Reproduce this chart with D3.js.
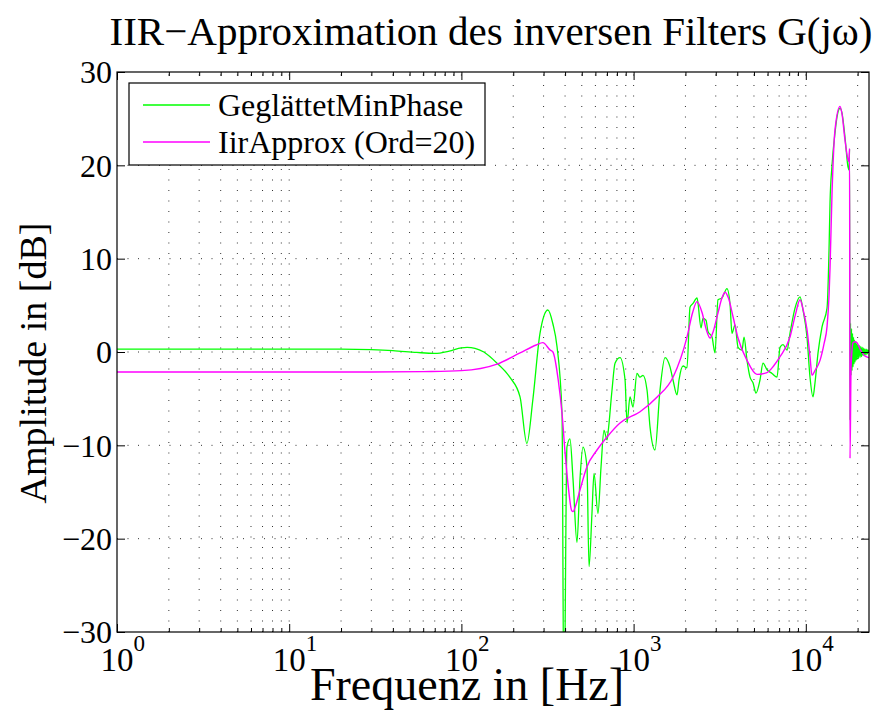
<!DOCTYPE html>
<html><head><meta charset="utf-8">
<script src="https://cdn.jsdelivr.net/npm/d3@7"></script>
<style>
body{margin:0;background:#fff}
svg{display:block}
text{font-family:"Liberation Serif","Times New Roman",serif;fill:#000}
</style>
</head><body>
<svg id="chart" width="879" height="724"></svg>
<script>
// ---- data ----
const titleText = "IIR\u2212Approximation des inversen Filters G(j\u03c9)";
const xLabelText = "Frequenz in [Hz]";
const yLabelText = "Amplitude in [dB]";
const seriesNames = ["Gegl\u00e4ttetMinPhase", "IirApprox (Ord=20)"];
const seriesColors = ["#00ff00", "#ff00ff"];
const yTicks = [-30, -20, -10, 0, 10, 20, 30];
const xDecades = [0, 1, 2, 3, 4];
const xDomain = [1, 23280];

const greenFreq = [1,5,10,20,30,40,55,70,85,100,108,120,135,161,191,219,240,260,286,318,340,359,384,394,410,427,445,469,488,508,536,551,573,589,621,647,673,701,710,749,780,834,892,916,953,992,1046,1090,1134,1197,1245,1331,1423,1522,1627,1694,1787,1835,1936,2042,2126,2213,2334,2366,2463,2529,2633,2704,2853,2970,3091,3262,3486,3628,3727,3881,4040,4262,4378,4556,4743,4937,5138,5420,5642,5953,6364,6805,7084,7373,7778,8094,8656,9255,9632,10162,10578,11010,11308,11776,12423,13281,13640,13824,14198,14779,15180,15800,16230,16890,17588,17820,17950,18060,18180,18300,18430,18550,18680,18800,18930,19050,19180,19310,19440,19570,19700,19830,20000,20200,20400,20640,20850,21050,21250,21490,21700,21900,22100,22370,22600,22800,23000,23280];
const greenDb = [0.3,0.3,0.3,0.3,0.25,0.15,-0.05,-0.15,0.1,0.45,0.5,0.4,0.0,-1.2,-2.7,-4.8,-9.8,-5.1,2.0,4.5,3.0,0.6,-6.6,-40,-10.2,-9.3,-13.7,-20.4,-13.7,-10.2,-12.3,-23,-17.3,-13,-17.3,-12.3,-8.4,-9.4,-8.7,-4.1,-1.2,-0.6,-3,-7.6,-4.8,-5.9,-2.3,-2.7,-2.5,-4.1,-8,-10.5,-4.1,-0.6,-1.6,-3,-4.6,-3,-1.5,-1.7,4.8,5.2,5.8,5.2,2.6,3.6,3.4,2.2,1.6,-0.1,5.6,5.8,6.8,5.2,2.0,2.9,0.5,0.2,1.6,-0.9,-2.7,-3.3,-4.4,-3.0,-1.2,-1.9,-2.3,-2.7,0.5,0.8,0.2,2.0,4.7,5.9,4.5,1.6,-2.7,-4.8,-3.3,-0.1,2.7,4.7,10.9,16,20,23.5,25.2,26.1,25.6,23,19.8,19.5,21.7,-7.3,3.1,-2.5,2.5,-2,2,-1.6,1.6,-1.3,1.3,-1.1,1.1,-0.9,0.9,-0.8,0.8,-0.7,0.7,-0.6,0.6,-0.5,0.5,-0.4,0.4,-0.4,0.3,-0.3,0.3,-0.2,0.2,0];

const iirFreq = [1,30,60,100,161,219,272,297,328,340,365,384,400,418,437,445,460,488,536,613,701,834,1090,1375,1694,2042,2200,2334,2500,2633,2778,2900,3091,3262,3395,3550,3777,4040,4556,5207,5953,6500,7084,8094,8700,9255,9632,10162,10578,10864,11300,12095,12800,13281,13640,13824,14198,14779,15800,16230,16890,17588,17820,17950,18060,18300,18550,18800,19310,19830,20640,21490,22370,23280];
const iirDb = [-2.15,-2.15,-2.1,-2.0,-1.3,-0.1,0.75,1.0,0.2,0,-3,-6.6,-10.8,-14.5,-17,-17.1,-16.5,-14.8,-12.3,-10.5,-9.1,-7.6,-6.4,-4.8,-2.7,1.6,4.2,5.4,4.2,2.5,1.5,2.2,4.2,5.8,6.4,5.8,3.8,1.5,-0.9,-2.4,-2.2,-1.5,-0.5,1.6,4.0,5.6,4.6,2.4,-0.5,-2.5,-2.0,-0.9,1.0,2.7,6,9,17,23.8,26.3,25.5,22.7,20.6,20.4,21.8,-11.4,-2,0.2,1.0,1.1,1.0,0.3,-0.2,-0.5,-0.6];

// ---- layout ----
const L = 117, R = 869, T = 72, B = 632;
const svg = d3.select("#chart");
const x = d3.scaleLog().domain(xDomain).range([L, R]);
const y = d3.scaleLinear().domain([-30, 30]).range([B, T]);

const minorVals = [];
xDecades.forEach(d => { for (let m = 2; m <= 9; m++) { const v = m * Math.pow(10, d); if (v < xDomain[1]) minorVals.push(v); } });
const majorVals = xDecades.map(d => Math.pow(10, d));

// grid
const grid = svg.append("g").attr("stroke", "#333").attr("stroke-width", 1).attr("stroke-dasharray", "1,9.5");
majorVals.concat(minorVals).forEach(v => {
  if (x(v) > L + 1 && x(v) < R - 1)
    grid.append("line").attr("x1", x(v)).attr("x2", x(v)).attr("y1", B).attr("y2", T);
});
yTicks.slice(1, -1).forEach(v => {
  grid.append("line").attr("x1", L).attr("x2", R).attr("y1", y(v)).attr("y2", y(v));
});

svg.append("clipPath").attr("id", "clip").append("rect").attr("x", L).attr("y", T).attr("width", R - L).attr("height", B - T);

const line = d3.line().curve(d3.curveMonotoneX).x(d => x(d[0])).y(d => y(d[1]));
const greenData = greenFreq.map((f, i) => [f, greenDb[i]]);
const iirData = iirFreq.map((f, i) => [f, iirDb[i]]);
const plot = svg.append("g").attr("clip-path", "url(#clip)");
plot.append("path").datum(greenData).attr("d", line).attr("fill", "none").attr("stroke", seriesColors[0]).attr("stroke-width", 1.3).attr("stroke-linejoin", "round");
plot.append("path").datum(iirData).attr("d", line).attr("fill", "none").attr("stroke", seriesColors[1]).attr("stroke-width", 1.4).attr("stroke-linejoin", "round");

// ticks
function styleAxis(g) { g.select(".domain").remove(); g.selectAll("line").attr("stroke", "#000"); g.selectAll("text").remove(); }
svg.append("g").attr("transform", `translate(0,${B})`).call(d3.axisBottom(x).tickValues(majorVals).tickSize(-8)).call(styleAxis);
svg.append("g").attr("transform", `translate(0,${B})`).call(d3.axisBottom(x).tickValues(minorVals).tickSize(-4)).call(styleAxis);
svg.append("g").attr("transform", `translate(0,${T})`).call(d3.axisTop(x).tickValues(majorVals).tickSize(-8)).call(styleAxis);
svg.append("g").attr("transform", `translate(0,${T})`).call(d3.axisTop(x).tickValues(minorVals).tickSize(-4)).call(styleAxis);
svg.append("g").attr("transform", `translate(${L},0)`).call(d3.axisLeft(y).tickValues(yTicks).tickSize(-8)).call(styleAxis);
svg.append("g").attr("transform", `translate(${R},0)`).call(d3.axisRight(y).tickValues(yTicks).tickSize(-8)).call(styleAxis);

svg.append("rect").attr("x", L).attr("y", T).attr("width", R - L).attr("height", B - T).attr("fill", "none").attr("stroke", "#000").attr("stroke-width", 1.2);

// y tick labels
svg.append("g").selectAll("text").data(yTicks).join("text")
  .attr("x", L - 5).attr("y", d => y(d)).attr("dy", "0.35em").attr("text-anchor", "end")
  .attr("font-size", 32).text(d => d < 0 ? "\u2212" + Math.abs(d) : String(d));

// x tick labels
const xl = svg.append("g").selectAll("text").data(xDecades).join("text")
  .attr("x", d => x(Math.pow(10, d)) - 16.5).attr("y", 671).attr("font-size", 33);
xl.append("tspan").text("10");
xl.append("tspan").attr("font-size", 23).attr("dy", -20).text(d => String(d));

// labels
svg.append("text").attr("x", 491).attr("y", 45).attr("text-anchor", "middle").attr("font-size", 41).text(titleText);
svg.append("text").attr("x", 467).attr("y", 700).attr("text-anchor", "middle").attr("font-size", 46).text(xLabelText);
svg.append("text").attr("transform", "translate(46,363) rotate(-90)").attr("text-anchor", "middle").attr("font-size", 38).text(yLabelText);

// legend
const lg = svg.append("g");
lg.append("rect").attr("x", 129).attr("y", 83).attr("width", 356).attr("height", 82).attr("fill", "#fff").attr("stroke", "#000").attr("stroke-width", 1.2);
const rows = [105, 142];
seriesNames.forEach((n, i) => {
  lg.append("line").attr("x1", 143).attr("x2", 210).attr("y1", rows[i]).attr("y2", rows[i]).attr("stroke", seriesColors[i]).attr("stroke-width", 1.4);
  lg.append("text").attr("x", 218).attr("y", rows[i]).attr("dy", "0.35em").attr("font-size", 32).text(n);
});
</script>
</body></html>
